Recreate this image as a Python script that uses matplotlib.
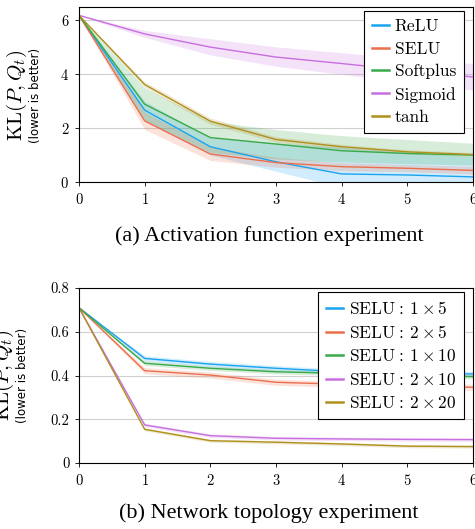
import matplotlib
matplotlib.use("Agg")
import matplotlib.pyplot as plt
import numpy as np

plt.rcParams['mathtext.fontset'] = 'cm'
plt.rcParams['font.family'] = ['serif']
plt.rcParams['font.serif'] = ['cmr10', 'DejaVu Serif']
plt.rcParams['axes.formatter.use_mathtext'] = True

x = [0, 1, 2, 3, 4, 5, 6]

# ---- Top panel: activation functions ----
act_names = ['ReLU', 'SELU', 'Softplus', 'Sigmoid', 'tanh']
act_colors = ['#1aa3f0', '#eb6f4c', '#3aa94a', '#c86fe0', '#b0901e']
relu_mean = [6.19, 2.67, 1.31, 0.75, 0.30, 0.26, 0.19]
relu_lo = [6.19, 2.30, 1.00, 0.40, -0.20, -0.30, -0.30]
relu_hi = [6.19, 3.00, 1.65, 1.45, 1.30, 1.10, 0.95]
selu_mean = [6.19, 2.27, 1.04, 0.72, 0.57, 0.51, 0.43]
selu_lo = [6.19, 1.95, 0.80, 0.55, 0.42, 0.38, 0.30]
selu_hi = [6.19, 2.60, 1.30, 0.92, 0.72, 0.65, 0.58]
soft_mean = [6.19, 2.89, 1.65, 1.41, 1.16, 1.06, 1.00]
soft_lo = [6.19, 2.30, 1.10, 0.85, 0.75, 0.68, 0.63]
soft_hi = [6.19, 3.50, 2.25, 1.95, 1.72, 1.58, 1.44]
sig_mean = [6.19, 5.50, 5.01, 4.64, 4.40, 4.15, 3.90]
sig_lo = [6.19, 5.37, 4.72, 4.30, 4.00, 3.70, 3.41]
sig_hi = [6.19, 5.63, 5.32, 5.02, 4.80, 4.60, 4.40]
tanh_mean = [6.19, 3.62, 2.26, 1.58, 1.31, 1.12, 1.02]
tanh_lo = [6.19, 3.52, 2.14, 1.48, 1.22, 1.04, 0.95]
tanh_hi = [6.19, 3.72, 2.38, 1.68, 1.40, 1.20, 1.09]

act_means = [relu_mean, selu_mean, soft_mean, sig_mean, tanh_mean]
act_los = [relu_lo, selu_lo, soft_lo, sig_lo, tanh_lo]
act_his = [relu_hi, selu_hi, soft_hi, sig_hi, tanh_hi]

# ---- Bottom panel: network topology ----
topo_names = [r'$\mathrm{SELU}\:\!:\:1\times5$', r'$\mathrm{SELU}\:\!:\:2\times5$', r'$\mathrm{SELU}\:\!:\:1\times10$',
              r'$\mathrm{SELU}\:\!:\:2\times10$', r'$\mathrm{SELU}\:\!:\:2\times20$']
topo_colors = act_colors
t1x5 = [0.71, 0.478, 0.452, 0.433, 0.417, 0.410, 0.407]
t2x5 = [0.71, 0.422, 0.402, 0.369, 0.360, 0.352, 0.346]
t1x10 = [0.71, 0.456, 0.433, 0.417, 0.410, 0.401, 0.395]
t2x10 = [0.71, 0.174, 0.125, 0.113, 0.110, 0.108, 0.107]
t2x20 = [0.71, 0.154, 0.102, 0.095, 0.087, 0.077, 0.075]
topo_means = [t1x5, t2x5, t1x10, t2x10, t2x20]
topo_spread = [0.012, 0.014, 0.010, 0.008, 0.007]

fig = plt.figure(figsize=(4.75, 5.29), dpi=100)
ax1 = fig.add_axes([79/475, 1-182/529, (473-79)/475, 175/529])
ax2 = fig.add_axes([79/475, 1-463/529, (473-79)/475, 175/529])

for m, lo, hi, c, n in zip(act_means, act_los, act_his, act_colors, act_names):
    ax1.fill_between(x, lo, hi, color=c, alpha=0.2, linewidth=0)
    ax1.plot(x, m, color=c, lw=1.0, label=n)

for m, s, c, n in zip(topo_means, topo_spread, topo_colors, topo_names):
    arr = np.array(m)
    sp = np.array([0] + [s]*6)
    ax2.fill_between(x, arr-sp, arr+sp, color=c, alpha=0.2, linewidth=0)
    ax2.plot(x, m, color=c, lw=1.0, label=n)

ax1.set_xlim(0, 6)
ax1.set_ylim(0, 6.5)
ax1.set_yticks([0, 2, 4, 6])
ax2.set_xlim(0, 6)
ax2.set_ylim(0, 0.8)
ax2.set_yticks([0, 0.2, 0.4, 0.6, 0.8])
ax2.set_yticklabels(['0', '0.2', '0.4', '0.6', '0.8'])

for ax in (ax1, ax2):
    ax.set_xticks(x)
    ax.grid(axis='y', color='#d0d0d0', lw=0.8)
    ax.set_axisbelow(True)
    ax.tick_params(direction='out', length=3, width=0.6, labelsize=10.5, pad=4)
    for sp_ in ax.spines.values():
        sp_.set_linewidth(0.8)
    leg = ax.legend(loc='upper right', fontsize=12.5, frameon=True, fancybox=False,
                    edgecolor='black', framealpha=1, handlelength=0.95, handletextpad=0.35,
                    labelspacing=0.42, borderpad=0.45, borderaxespad=0,
                    bbox_to_anchor=(0.977, 0.977))
    leg.get_frame().set_linewidth(0.8)
    for h in leg.get_lines():
        h.set_linewidth(1.8)

# y labels
fig.text(17/475, 1-95/529, r'$\mathrm{KL}(P,Q_t)$', rotation=90, ha='center', va='center', fontsize=15)
fig.text(35/475, 1-95/529, '(lower is better)', rotation=90, ha='center', va='center',
         fontsize=8.5, family='DejaVu Sans')
fig.text(4/475, 1-375/529, r'$\mathrm{KL}(P,Q_t)$', rotation=90, ha='center', va='center', fontsize=15)
fig.text(23/475, 1-375/529, '(lower is better)', rotation=90, ha='center', va='center',
         fontsize=8.5, family='DejaVu Sans')

fig.text(269/475, 1-236/529, '(a) Activation function experiment', ha='center', va='center',
         fontsize=16, family='Liberation Serif')
fig.text(269/475, 1-513/529, '(b) Network topology experiment', ha='center', va='center',
         fontsize=16, family='Liberation Serif')

fig.savefig('out.png', dpi=100)
